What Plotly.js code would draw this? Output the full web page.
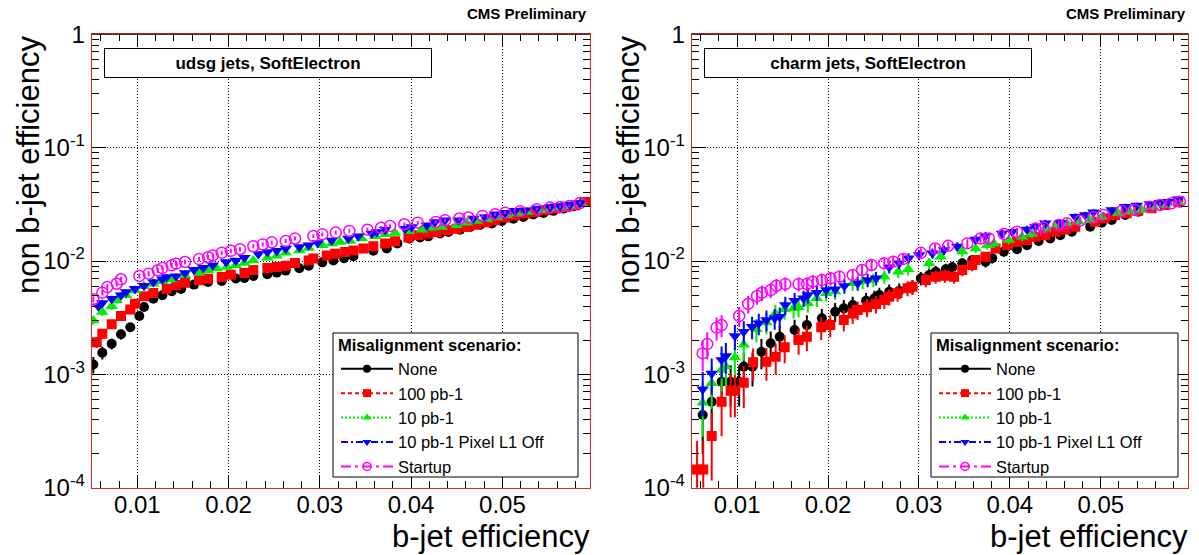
<!DOCTYPE html>
<html>
<head>
<meta charset="utf-8">
<script src="https://cdn.plot.ly/plotly-3.0.1.min.js"></script>
<style>html,body{margin:0;padding:0;background:#fff;}#chart{width:1199px;height:555px;}</style>
</head>
<body>
<div id="chart"></div>
<script>
// ---------------- DATA ----------------
const seriesNames = ['None', '100 pb-1', '10 pb-1', '10 pb-1 Pixel L1 Off', 'Startup'];
const xTickVals = [0.01, 0.02, 0.03, 0.04, 0.05];
const xTickText = ['0.01', '0.02', '0.03', '0.04', '0.05'];
const yTickVals = [1e-4, 1e-3, 1e-2, 1e-1, 1];
const yTickText = ['10<sup>-4</sup>', '10<sup>-3</sup>', '10<sup>-2</sup>', '10<sup>-1</sup>', '1'];

// udsg jets
const udsgNoneX = [0.00518,0.00616,0.00719,0.00821,0.00923,0.01022,0.01073,0.01175,0.01274,0.01377,0.01479,0.01621,0.01775,0.01925,0.02079,0.02173,0.02271,0.02425,0.02528,0.02626,0.02775,0.02878,0.03027,0.03148,0.03265,0.03367,0.03586,0.03733,0.03849,0.03981,0.04098,0.04189,0.04317,0.04408,0.04536,0.04646,0.04756,0.04884,0.04994,0.05121,0.0523,0.0534,0.0545,0.05559,0.05668,0.05778,0.05888];
const udsgNoneY = [1.22e-3,1.55e-3,1.86e-3,2.26e-3,2.6e-3,3.27e-3,3.93e-3,4.65e-3,4.98e-3,5.4e-3,5.66e-3,6.19e-3,6.53e-3,6.66e-3,7.0e-3,7.08e-3,7.37e-3,7.63e-3,7.9e-3,8.23e-3,8.63e-3,9.1e-3,9.73e-3,1.01e-2,1.06e-2,1.10e-2,1.23e-2,1.29e-2,1.43e-2,1.58e-2,1.61e-2,1.65e-2,1.75e-2,1.80e-2,1.89e-2,2.0e-2,2.09e-2,2.14e-2,2.25e-2,2.36e-2,2.45e-2,2.57e-2,2.65e-2,2.77e-2,2.9e-2,3.04e-2,3.32e-2];
const udsgNoneErr = [2.0e-4,2.0e-4,2.0e-4,2.3e-4,2.4e-4,2.6e-4,2.8e-4,3.0e-4,3.0e-4,3.2e-4,3.3e-4,3.4e-4,3.5e-4,3.5e-4,3.6e-4,3.6e-4,3.7e-4,3.8e-4,3.9e-4,4.0e-4,4.1e-4,4.2e-4,4.4e-4,4.5e-4,4.7e-4,4.8e-4,5.2e-4,5.4e-4,5.8e-4,6.2e-4,6.3e-4,6.4e-4,6.6e-4,6.7e-4,6.9e-4,7.2e-4,7.4e-4,7.5e-4,7.8e-4,8.0e-4,8.3e-4,8.5e-4,8.7e-4,8.9e-4,9.1e-4,9.4e-4,9.9e-4];

const udsg100X = [0.00555,0.00616,0.00719,0.00821,0.00923,0.00975,0.01073,0.01175,0.01322,0.01424,0.01523,0.01676,0.01775,0.01925,0.02024,0.02173,0.02271,0.02425,0.02528,0.02626,0.02728,0.02878,0.02929,0.03076,0.03167,0.03277,0.03367,0.03477,0.03586,0.03715,0.03824,0.0397,0.0408,0.04189,0.04281,0.04391,0.045,0.0461,0.0472,0.04829,0.0492,0.0503,0.0514,0.05249,0.05359,0.05469,0.05578,0.05688,0.05798,0.05925];
const udsg100Y = [1.92e-3,2.28e-3,2.76e-3,3.27e-3,3.74e-3,4.2e-3,4.88e-3,5.21e-3,5.7e-3,6.14e-3,6.44e-3,6.75e-3,6.98e-3,7.22e-3,7.58e-3,7.83e-3,8.32e-3,8.67e-3,8.85e-3,9.1e-3,9.6e-3,1.01e-2,1.05e-2,1.12e-2,1.16e-2,1.2e-2,1.24e-2,1.29e-2,1.35e-2,1.43e-2,1.49e-2,1.61e-2,1.69e-2,1.75e-2,1.80e-2,1.87e-2,1.93e-2,2.0e-2,2.09e-2,2.2e-2,2.29e-2,2.42e-2,2.53e-2,2.62e-2,2.71e-2,2.8e-2,2.9e-2,3.0e-2,3.1e-2,3.32e-2];
const udsg100Err = [2.1e-4,2.3e-4,2.5e-4,2.6e-4,2.7e-4,2.9e-4,3.0e-4,3.1e-4,3.3e-4,3.4e-4,3.5e-4,3.5e-4,3.6e-4,3.7e-4,3.8e-4,3.9e-4,4.0e-4,4.1e-4,4.1e-4,4.2e-4,4.4e-4,4.5e-4,4.6e-4,4.8e-4,4.9e-4,5.1e-4,5.2e-4,5.4e-4,5.5e-4,5.8e-4,6.0e-4,6.3e-4,6.5e-4,6.6e-4,6.7e-4,6.9e-4,7.0e-4,7.2e-4,7.4e-4,7.7e-4,7.9e-4,8.2e-4,8.5e-4,8.7e-4,8.8e-4,9.0e-4,9.1e-4,9.3e-4,9.5e-4,9.9e-4];

const udsg10X = [0.00518,0.00616,0.00719,0.00774,0.00876,0.00975,0.01073,0.01175,0.01274,0.01377,0.01523,0.01676,0.01775,0.0187,0.0198,0.02078,0.02173,0.02271,0.02425,0.02528,0.02626,0.02775,0.02878,0.03027,0.0313,0.03221,0.03331,0.03459,0.03605,0.03715,0.03824,0.0397,0.04117,0.04226,0.04336,0.045,0.0461,0.0472,0.04829,0.04939,0.05048,0.05158,0.05267,0.05417,0.05527,0.05636,0.05746,0.0587];
const udsg10Y = [2.99e-3,3.55e-3,3.98e-3,4.5e-3,4.98e-3,5.5e-3,5.98e-3,6.3e-3,6.62e-3,6.85e-3,7.48e-3,7.89e-3,8.23e-3,8.57e-3,8.85e-3,9.16e-3,9.6e-3,1.01e-2,1.07e-2,1.11e-2,1.18e-2,1.24e-2,1.30e-2,1.38e-2,1.43e-2,1.47e-2,1.5e-2,1.58e-2,1.65e-2,1.72e-2,1.77e-2,1.83e-2,1.89e-2,1.96e-2,2.0e-2,2.07e-2,2.17e-2,2.25e-2,2.33e-2,2.42e-2,2.53e-2,2.62e-2,2.71e-2,2.8e-2,2.9e-2,2.96e-2,3.04e-2,3.21e-2];
const udsg10Err = [2.5e-4,2.7e-4,2.8e-4,2.9e-4,3.0e-4,3.2e-4,3.4e-4,3.4e-4,3.5e-4,3.6e-4,3.8e-4,3.9e-4,4.0e-4,4.1e-4,4.1e-4,4.2e-4,4.4e-4,4.5e-4,4.7e-4,4.8e-4,5.0e-4,5.2e-4,5.4e-4,5.6e-4,5.8e-4,5.9e-4,6.0e-4,6.2e-4,6.4e-4,6.5e-4,6.6e-4,6.8e-4,6.9e-4,7.1e-4,7.2e-4,7.4e-4,7.6e-4,7.8e-4,8.0e-4,8.2e-4,8.5e-4,8.7e-4,8.8e-4,9.0e-4,9.1e-4,9.2e-4,9.4e-4,9.7e-4];

const udsgPixX = [0.00573,0.00616,0.00719,0.00821,0.00876,0.00975,0.01073,0.01175,0.01274,0.01322,0.01424,0.01523,0.01621,0.01723,0.01826,0.01972,0.02078,0.02173,0.02326,0.02425,0.02528,0.02626,0.02775,0.02878,0.02977,0.0313,0.03312,0.03422,0.03569,0.03624,0.03715,0.03934,0.04007,0.04172,0.04262,0.04372,0.04518,0.04682,0.0481,0.0492,0.0503,0.0514,0.05249,0.05377,0.05523,0.05632,0.05742,0.05852];
const udsgPixY = [3.98e-3,4.26e-3,4.65e-3,4.98e-3,5.32e-3,5.7e-3,6.06e-3,6.53e-3,6.9e-3,7.22e-3,7.33e-3,7.83e-3,8.39e-3,8.74e-3,9.16e-3,9.8e-3,1.01e-2,1.07e-2,1.15e-2,1.2e-2,1.23e-2,1.29e-2,1.33e-2,1.38e-2,1.44e-2,1.52e-2,1.58e-2,1.65e-2,1.75e-2,1.80e-2,1.89e-2,1.93e-2,2.0e-2,2.07e-2,2.21e-2,2.29e-2,2.29e-2,2.37e-2,2.45e-2,2.58e-2,2.67e-2,2.77e-2,2.8e-2,2.9e-2,3.0e-2,3.06e-2,3.15e-2,3.25e-2];
const udsgPixErr = [2.8e-4,2.9e-4,2.9e-4,3.0e-4,3.1e-4,3.3e-4,3.4e-4,3.5e-4,3.6e-4,3.7e-4,3.7e-4,3.9e-4,4.0e-4,4.1e-4,4.2e-4,4.4e-4,4.5e-4,4.7e-4,4.9e-4,5.1e-4,5.2e-4,5.4e-4,5.5e-4,5.6e-4,5.8e-4,6.1e-4,6.2e-4,6.4e-4,6.6e-4,6.7e-4,6.9e-4,7.0e-4,7.2e-4,7.4e-4,7.7e-4,7.9e-4,7.9e-4,8.1e-4,8.3e-4,8.6e-4,8.7e-4,8.9e-4,9.0e-4,9.1e-4,9.3e-4,9.4e-4,9.6e-4,9.8e-4];

const udsgStartX = [0.00518,0.00616,0.00671,0.00774,0.00821,0.01022,0.01125,0.01224,0.01274,0.01377,0.01424,0.01523,0.01676,0.01775,0.01826,0.01925,0.02024,0.02125,0.02271,0.02374,0.02473,0.02626,0.02728,0.02929,0.03027,0.03174,0.03323,0.03521,0.03671,0.03769,0.03926,0.04073,0.0427,0.04372,0.04529,0.04627,0.04781,0.0492,0.0503,0.05194,0.05377,0.05523,0.05632,0.05734,0.05852];
const udsgStartY = [4.59e-3,5.26e-3,5.89e-3,6.3e-3,6.9e-3,7.37e-3,7.73e-3,8.28e-3,8.67e-3,9.16e-3,9.48e-3,9.8e-3,1.04e-2,1.08e-2,1.12e-2,1.18e-2,1.23e-2,1.27e-2,1.35e-2,1.40e-2,1.46e-2,1.50e-2,1.58e-2,1.66e-2,1.72e-2,1.78e-2,1.84e-2,1.89e-2,1.96e-2,2.04e-2,2.11e-2,2.18e-2,2.21e-2,2.29e-2,2.37e-2,2.42e-2,2.5e-2,2.58e-2,2.67e-2,2.75e-2,2.86e-2,2.96e-2,3.0e-2,3.06e-2,3.25e-2];
const udsgStartErr = [2.9e-4,3.1e-4,3.3e-4,3.4e-4,3.6e-4,3.7e-4,3.9e-4,4.0e-4,4.1e-4,4.2e-4,4.3e-4,4.4e-4,4.6e-4,4.7e-4,4.8e-4,5.0e-4,5.2e-4,5.3e-4,5.5e-4,5.7e-4,5.9e-4,6.0e-4,6.2e-4,6.4e-4,6.5e-4,6.6e-4,6.8e-4,6.9e-4,7.1e-4,7.3e-4,7.5e-4,7.6e-4,7.7e-4,7.9e-4,8.1e-4,8.2e-4,8.4e-4,8.6e-4,8.7e-4,8.9e-4,9.1e-4,9.2e-4,9.3e-4,9.4e-4,9.8e-4];

// charm jets
const charmNoneX = [0.00621,0.0072,0.00829,0.00928,0.01022,0.01073,0.01169,0.01267,0.01369,0.01468,0.01632,0.01767,0.01932,0.02078,0.02173,0.02271,0.02418,0.02509,0.02564,0.02673,0.02783,0.02929,0.03021,0.03112,0.03185,0.03295,0.03367,0.03477,0.03586,0.03733,0.03806,0.03934,0.04079,0.04189,0.04317,0.04445,0.04555,0.04682,0.04884,0.05011,0.05121,0.05268,0.05413,0.05559,0.05706,0.05852];
const charmNoneY = [4.38e-4,5.74e-4,8.61e-4,8.61e-4,8.61e-4,1.17e-3,1.17e-3,1.58e-3,1.88e-3,2.15e-3,2.46e-3,2.72e-3,3.12e-3,3.57e-3,3.82e-3,4.09e-3,4.46e-3,4.69e-3,5.01e-3,5.36e-3,5.47e-3,5.93e-3,7.03e-3,7.52e-3,8.05e-3,8.45e-3,8.79e-3,9.55e-3,1.02e-2,9.86e-3,1.06e-2,1.21e-2,1.27e-2,1.38e-2,1.50e-2,1.58e-2,1.69e-2,1.81e-2,2.01e-2,2.18e-2,2.3e-2,2.55e-2,2.72e-2,2.92e-2,3.12e-2,3.34e-2];
const charmNoneErr = [2.4e-4,2.9e-4,3.4e-4,3.4e-4,3.4e-4,3.9e-4,3.9e-4,4.7e-4,5.1e-4,5.4e-4,5.7e-4,6.0e-4,6.5e-4,6.8e-4,7.1e-4,7.4e-4,7.6e-4,7.7e-4,8.0e-4,8.3e-4,8.5e-4,8.6e-4,9.5e-4,9.8e-4,1.0e-3,1.0e-3,1.05e-3,1.1e-3,1.1e-3,1.1e-3,1.1e-3,1.2e-3,1.2e-3,1.25e-3,1.3e-3,1.35e-3,1.4e-3,1.45e-3,1.5e-3,1.55e-3,1.6e-3,1.7e-3,1.75e-3,1.85e-3,1.9e-3,1.95e-3];

const charm100X = [0.00559,0.00627,0.0072,0.00829,0.00928,0.00975,0.01073,0.01175,0.01322,0.01424,0.01523,0.01676,0.01767,0.01925,0.02024,0.02173,0.02271,0.02326,0.02429,0.02528,0.02619,0.02673,0.02764,0.02874,0.02929,0.03076,0.03185,0.03286,0.03386,0.03477,0.03586,0.03624,0.03733,0.03843,0.0397,0.04079,0.04189,0.04281,0.04391,0.045,0.0461,0.0472,0.04939,0.05048,0.05158,0.05285,0.05413,0.05559,0.05706,0.05852];
const charm100Y = [1.45e-4,1.45e-4,2.86e-4,5.74e-4,7.18e-4,7.18e-4,8.44e-4,1.28e-3,1.29e-3,1.43e-3,1.73e-3,2.01e-3,2.15e-3,2.6e-3,2.72e-3,3.02e-3,3.45e-3,3.7e-3,3.9e-3,4.18e-3,4.53e-3,4.84e-3,5.19e-3,5.74e-3,5.93e-3,6.79e-3,7.27e-3,7.4e-3,7.27e-3,8.33e-3,9.22e-3,1.02e-2,1.09e-2,1.29e-2,1.38e-2,1.48e-2,1.53e-2,1.64e-2,1.69e-2,1.81e-2,1.9e-2,2.01e-2,2.22e-2,2.38e-2,2.55e-2,2.64e-2,2.78e-2,2.92e-2,3.12e-2,3.34e-2];
const charm100Err = [1.15e-4,1.15e-4,1.7e-4,2.9e-4,3.0e-4,3.0e-4,3.4e-4,4.1e-4,4.1e-4,4.4e-4,4.8e-4,5.2e-4,5.4e-4,5.9e-4,6.0e-4,6.3e-4,6.7e-4,6.9e-4,7.1e-4,7.4e-4,7.6e-4,7.9e-4,8.2e-4,8.6e-4,8.6e-4,9.3e-4,9.6e-4,9.7e-4,9.6e-4,1.0e-3,1.08e-3,1.1e-3,1.12e-3,1.2e-3,1.25e-3,1.3e-3,1.32e-3,1.37e-3,1.4e-3,1.45e-3,1.47e-3,1.5e-3,1.57e-3,1.63e-3,1.7e-3,1.72e-3,1.78e-3,1.85e-3,1.9e-3,1.95e-3];

const charm10X = [0.00621,0.0072,0.00829,0.00876,0.00975,0.01073,0.01212,0.01322,0.01421,0.01523,0.01621,0.01676,0.01778,0.01877,0.0198,0.02078,0.02271,0.02381,0.02498,0.02619,0.02772,0.02882,0.03112,0.0324,0.03477,0.03624,0.03751,0.03824,0.03989,0.04134,0.04244,0.04391,0.04518,0.04628,0.04756,0.04884,0.05011,0.05194,0.05322,0.05449,0.05577,0.05706,0.05852];
const charm10Y = [5.62e-4,8.34e-4,1.09e-3,1.17e-3,1.41e-3,1.82e-3,2.5e-3,2.86e-3,3.45e-3,3.75e-3,3.82e-3,3.9e-3,4.23e-3,4.69e-3,5.19e-3,5.37e-3,6.35e-3,6.58e-3,6.79e-3,7.27e-3,8.05e-3,8.45e-3,9.55e-3,1.09e-2,1.21e-2,1.29e-2,1.38e-2,1.43e-2,1.53e-2,1.64e-2,1.73e-2,1.94e-2,2.08e-2,2.15e-2,2.22e-2,2.3e-2,2.46e-2,2.64e-2,2.72e-2,2.82e-2,3.01e-2,3.12e-2,3.34e-2];
const charm10Err = [2.8e-4,3.4e-4,3.8e-4,3.9e-4,4.3e-4,5.0e-4,5.8e-4,6.1e-4,6.7e-4,7.0e-4,7.1e-4,7.1e-4,7.4e-4,7.7e-4,8.2e-4,8.3e-4,8.9e-4,9.1e-4,9.3e-4,9.6e-4,1.0e-3,1.0e-3,1.1e-3,1.12e-3,1.2e-3,1.2e-3,1.25e-3,1.28e-3,1.32e-3,1.37e-3,1.42e-3,1.48e-3,1.52e-3,1.55e-3,1.57e-3,1.6e-3,1.67e-3,1.72e-3,1.75e-3,1.8e-3,1.87e-3,1.9e-3,1.95e-3];

const charmPixX = [0.00621,0.0072,0.00829,0.00876,0.00975,0.01073,0.01164,0.01238,0.01322,0.01413,0.01468,0.0153,0.01632,0.01731,0.01778,0.01877,0.0198,0.02078,0.0218,0.02326,0.02436,0.02528,0.02673,0.02783,0.02885,0.03002,0.03148,0.03276,0.03422,0.03624,0.03733,0.03915,0.04025,0.04189,0.04281,0.04391,0.04555,0.0472,0.04829,0.0492,0.05121,0.05268,0.05395,0.05541,0.05651,0.05742,0.05852];
const charmPixY = [7.38e-4,1.02e-3,1.34e-3,1.45e-3,2.18e-3,2.38e-3,2.63e-3,2.82e-3,3.02e-3,3.12e-3,3.23e-3,4.09e-3,4.46e-3,4.69e-3,5.01e-3,5.25e-3,5.54e-3,5.62e-3,6.01e-3,6.35e-3,6.79e-3,7.03e-3,8.79e-3,9.55e-3,1.06e-2,1.13e-2,1.17e-2,1.25e-2,1.34e-2,1.55e-2,1.66e-2,1.75e-2,1.81e-2,1.9e-2,2.01e-2,2.15e-2,2.18e-2,2.46e-2,2.55e-2,2.69e-2,2.82e-2,3.01e-2,3.08e-2,3.18e-2,3.27e-2,3.34e-2,3.5e-2];
const charmPixErr = [3.1e-4,3.6e-4,4.2e-4,4.4e-4,5.4e-4,5.6e-4,5.9e-4,6.1e-4,6.3e-4,6.5e-4,6.6e-4,7.4e-4,7.6e-4,7.7e-4,8.0e-4,8.2e-4,8.5e-4,8.5e-4,8.7e-4,8.9e-4,9.3e-4,9.5e-4,1.05e-3,1.1e-3,1.1e-3,1.15e-3,1.17e-3,1.2e-3,1.23e-3,1.33e-3,1.38e-3,1.42e-3,1.45e-3,1.47e-3,1.5e-3,1.55e-3,1.56e-3,1.67e-3,1.7e-3,1.74e-3,1.8e-3,1.87e-3,1.89e-3,1.92e-3,1.94e-3,1.95e-3,2.0e-3];

const charmStartX = [0.00621,0.00671,0.00774,0.00829,0.01022,0.01121,0.01219,0.01274,0.01369,0.01432,0.0153,0.01676,0.01767,0.01833,0.01932,0.02027,0.02126,0.02271,0.02374,0.02479,0.02619,0.02717,0.02826,0.03021,0.03178,0.03322,0.03532,0.03678,0.03769,0.03934,0.04079,0.04281,0.04372,0.04536,0.04628,0.04774,0.0492,0.0503,0.0523,0.05377,0.05541,0.05651,0.05778,0.0587];
const charmStartY = [1.53e-3,1.85e-3,2.58e-3,2.72e-3,3.27e-3,4.18e-3,4.91e-3,5.25e-3,5.54e-3,6.05e-3,6.26e-3,6.26e-3,6.26e-3,6.57e-3,6.79e-3,7.03e-3,7.27e-3,7.52e-3,8.33e-3,9.22e-3,9.55e-3,9.86e-3,1.04e-2,1.18e-2,1.29e-2,1.36e-2,1.43e-2,1.58e-2,1.58e-2,1.73e-2,1.81e-2,1.94e-2,1.97e-2,2.08e-2,2.15e-2,2.27e-2,2.43e-2,2.55e-2,2.76e-2,2.82e-2,3.01e-2,3.12e-2,3.23e-2,3.34e-2];
const charmStartErr = [4.6e-4,5.0e-4,5.9e-4,6.0e-4,6.6e-4,7.4e-4,7.9e-4,8.2e-4,8.5e-4,8.8e-4,8.9e-4,8.9e-4,8.9e-4,9.1e-4,9.3e-4,9.5e-4,9.6e-4,9.8e-4,1.0e-3,1.08e-3,1.1e-3,1.1e-3,1.1e-3,1.18e-3,1.2e-3,1.24e-3,1.28e-3,1.34e-3,1.34e-3,1.42e-3,1.45e-3,1.48e-3,1.49e-3,1.52e-3,1.55e-3,1.59e-3,1.66e-3,1.7e-3,1.78e-3,1.8e-3,1.87e-3,1.9e-3,1.93e-3,1.95e-3];

// ---------------- STYLE ----------------
const FONT = 'Liberation Sans, Arial, Helvetica, sans-serif';
const W = 1199, H = 555;
const styles = [
  {color:'#000000', symbol:'circle', size:10, dash:'solid', lw:2},
  {color:'#ff0000', symbol:'square', size:10, dash:'4px,3px', lw:2},
  {color:'#00ee00', symbol:'triangle-up', size:11, dash:'2px,2px', lw:2},
  {color:'#0000ff', symbol:'triangle-down', size:11, dash:'7px,3px,2px,3px', lw:2},
  {color:'#ff00ff', symbol:'circle-open', size:11, dash:'10px,4px,3px,4px', lw:2}
];

const udsg = [[udsgNoneX,udsgNoneY,udsgNoneErr],[udsg100X,udsg100Y,udsg100Err],[udsg10X,udsg10Y,udsg10Err],[udsgPixX,udsgPixY,udsgPixErr],[udsgStartX,udsgStartY,udsgStartErr]];
const charm = [[charmNoneX,charmNoneY,charmNoneErr],[charm100X,charm100Y,charm100Err],[charm10X,charm10Y,charm10Err],[charmPixX,charmPixY,charmPixErr],[charmStartX,charmStartY,charmStartErr]];

const traces = [];
function addPanel(sets, xa, ya, legendId) {
  sets.forEach((s, i) => {
    const st = styles[i];
    traces.push({
      type:'scatter', mode:'markers', x:s[0], y:s[1], xaxis:xa, yaxis:ya,
      showlegend:false, name:seriesNames[i],
      marker:{color:st.color, symbol:st.symbol, size:st.size, line:{color:st.color, width: st.symbol==='circle-open'?1.5:0}},
      error_y:{type:'data', array:s[2], visible:true, color:st.color, thickness:2, width:0}
    });
  });
  sets.forEach((s, i) => {
    const st = styles[i];
    traces.push({
      type:'scatter', mode:'lines+markers', x:[null], y:[null], xaxis:xa, yaxis:ya,
      showlegend:true, legend:legendId, name:seriesNames[i],
      line:{color:st.color, dash:st.dash, width:st.lw},
      marker:{color:st.color, symbol:st.symbol, size:8, line:{color:st.color, width: st.symbol==='circle-open'?1.5:0}}
    });
  });
}
addPanel(udsg, 'x', 'y', 'legend');
addPanel(charm, 'x2', 'y2', 'legend2');

const yDom = [1 - 487.7/H, 1 - 34.3/H];
function xAxis(dom) {
  return {
    domain:dom, range:[0.005, 0.0596], tickmode:'array', tickvals:xTickVals, ticktext:xTickText,
    ticks:'inside', ticklen:13, tickwidth:1, tickcolor:'#000', showline:true, linecolor:'#d42a2a', linewidth:1,
    mirror:'allticks', showgrid:true, gridcolor:'#000', griddash:'1px,2px', gridwidth:1, zeroline:false,
    tickfont:{family:FONT, size:24, color:'#000'}, ticklabelstandoff:-5,
    minor:{ticks:'inside', ticklen:7, dtick:0.002, tick0:0, tickcolor:'#000', showgrid:false}
  };
}
function yAxis(anchor) {
  return {
    domain:yDom, anchor:anchor, type:'log', range:[-4, 0], tickmode:'array', tickvals:yTickVals, ticktext:yTickText,
    ticks:'inside', ticklen:14, tickwidth:1, tickcolor:'#000', showline:true, linecolor:'#d42a2a', linewidth:1,
    mirror:'allticks', showgrid:true, gridcolor:'#000', griddash:'1px,2px', gridwidth:1, zeroline:false,
    tickfont:{family:FONT, size:24, color:'#000'}, ticklabelstandoff:1,
    minor:{ticks:'inside', ticklen:7, dtick:'D1', tickcolor:'#000', showgrid:false}
  };
}

const leftDom = [91.7/W, 590/W];
const rightDom = [691.7/W, 1188/W];

const shapes = [];
[['x domain','y domain'],['x2 domain','y2 domain']].forEach(r => {
  shapes.push({type:'line', xref:r[0], yref:r[1], x0:0, x1:1, y0:1, y1:1, line:{color:'#000', width:1}, layer:'above'});
});
[[333, 578], [931, 1178]].forEach(b => {
  shapes.push({type:'rect', xref:'paper', yref:'paper', x0:b[0]/W, x1:b[1]/W, y0:1-477/H, y1:1-333/H,
    fillcolor:'#fff', line:{color:'#000', width:1}, layer:'above'});
});

const annotations = [];
function textAnn(t, xpx, ypx, opts) {
  annotations.push(Object.assign({text:t, xref:'paper', yref:'paper', x:xpx/W, y:1-ypx/H, showarrow:false,
    font:{family:FONT, size:16, color:'#000'}}, opts||{}));
}
// panel titles
const boxOpts = {xanchor:'center', yanchor:'middle', width:326, height:28, borderpad:0, bordercolor:'#000', borderwidth:1, bgcolor:'#fff', font:{family:FONT, size:17, color:'#000'}};
textAnn('<b>udsg jets, SoftElectron</b>', 268, 63, boxOpts);
textAnn('<b>charm jets, SoftElectron</b>', 868, 63, boxOpts);
// CMS Preliminary
textAnn('<b>CMS Preliminary</b>', 589, 14, {xanchor:'right', yanchor:'middle', font:{family:FONT, size:15, color:'#000'}});
textAnn('<b>CMS Preliminary</b>', 1188, 14, {xanchor:'right', yanchor:'middle', font:{family:FONT, size:15, color:'#000'}});
// axis titles
textAnn('b-jet efficiency', 592, 536, {xanchor:'right', yanchor:'middle', font:{family:FONT, size:31, color:'#000'}});
textAnn('b-jet efficiency', 1190, 536, {xanchor:'right', yanchor:'middle', font:{family:FONT, size:31, color:'#000'}});
textAnn('non b-jet efficiency', 28, 34, {xanchor:'center', yanchor:'top', textangle:-90, font:{family:FONT, size:31, color:'#000'}});
textAnn('non b-jet efficiency', 628, 34, {xanchor:'center', yanchor:'top', textangle:-90, font:{family:FONT, size:31, color:'#000'}});

function legendCfg(xpx) {
  return {x:xpx/W, y:1-330/H, xanchor:'left', yanchor:'top', bgcolor:'rgba(0,0,0,0)', borderwidth:0,
    font:{family:FONT, size:16.5, color:'#000'}, tracegroupgap:0, itemwidth:52,
    title:{text:'<b>Misalignment scenario:</b>', font:{family:FONT, size:16.5, color:'#000'}}};
}

const layout = {
  width:W, height:H, margin:{l:0, r:0, t:0, b:0}, paper_bgcolor:'#fff', plot_bgcolor:'#fff',
  font:{family:FONT, color:'#000'}, showlegend:true,
  xaxis:Object.assign(xAxis(leftDom), {anchor:'y'}),
  yaxis:yAxis('x'),
  xaxis2:Object.assign(xAxis(rightDom), {anchor:'y2'}),
  yaxis2:yAxis('x2'),
  legend:legendCfg(336), legend2:legendCfg(934),
  shapes:shapes, annotations:annotations
};

Plotly.newPlot('chart', traces, layout, {staticPlot:true, displayModeBar:false});
</script>
</body>
</html>
